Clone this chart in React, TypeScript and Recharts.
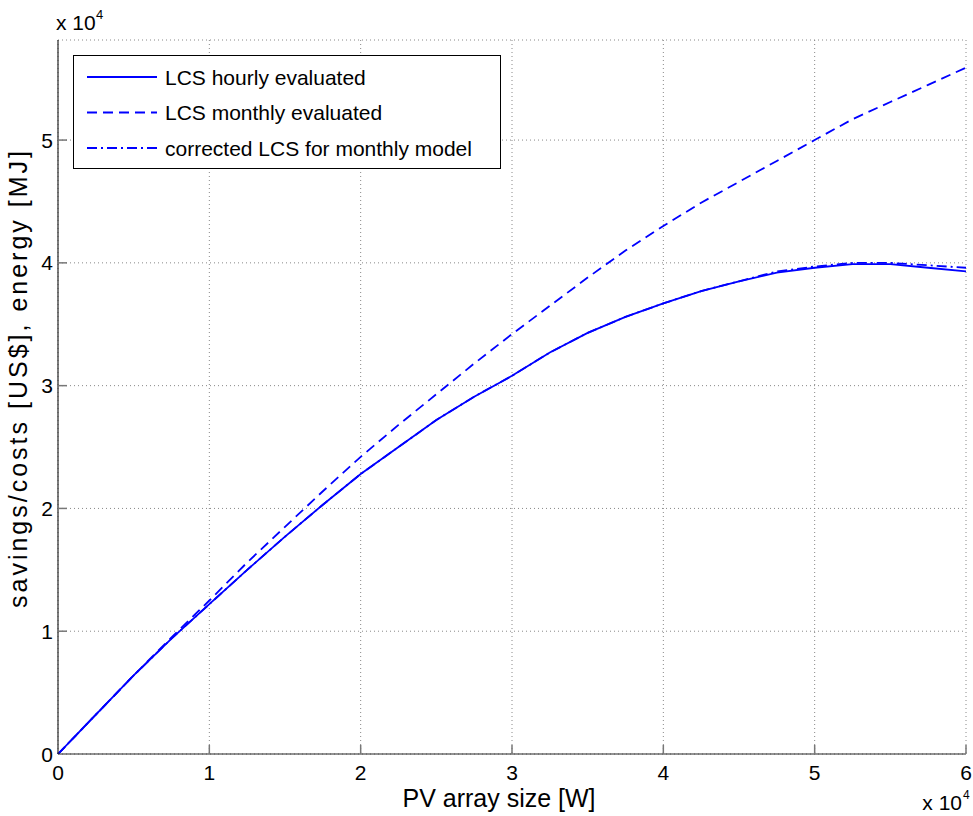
import React from 'react';
import { LineChart, Line, XAxis, YAxis, CartesianGrid, Legend, Customized } from 'recharts';

const FONT = '"Liberation Sans", Arial, Helvetica, sans-serif';
const BLUE = '#0000ff';

// PV array size [W]
const arraySizes = [
  0, 2500, 5000, 7500, 10000, 12500, 15000, 17500, 20000, 22500, 25000, 27500, 30000,
  32500, 35000, 37500, 40000, 42500, 45000, 47500, 50000, 52500, 55000, 57500, 60000,
];

// life-cycle savings [US$]
const hourlyLCS = [
  0, 3200, 6400, 9400, 12200, 15000, 17700, 20300, 22800, 25000, 27200, 29100, 30800,
  32700, 34300, 35600, 36700, 37700, 38500, 39200, 39600, 39900, 39900, 39600, 39300,
];
const monthlyLCS = [
  0, 3200, 6400, 9500, 12500, 15600, 18500, 21400, 24200, 26800, 29300, 31800, 34200,
  36500, 38800, 41000, 43000, 44900, 46600, 48300, 50000, 51700, 53100, 54500, 55900,
];
const correctedLCS = [
  0, 3200, 6400, 9400, 12200, 15000, 17700, 20300, 22800, 25000, 27200, 29100, 30800,
  32700, 34300, 35600, 36700, 37700, 38500, 39300, 39700, 40000, 40000, 39800, 39600,
];

const xTicks = [0, 10000, 20000, 30000, 40000, 50000, 60000];
const xTickLabels = ['0', '1', '2', '3', '4', '5', '6'];
const yTicks = [0, 10000, 20000, 30000, 40000, 50000];
const yTickLabels = ['0', '1', '2', '3', '4', '5'];

const seriesNames = ['LCS hourly evaluated', 'LCS monthly evaluated', 'corrected LCS for monthly model'];
const seriesDash = ['', '10 6', '10 4 2 4'];

const xTitle = 'PV array size [W]';
const yTitle = 'savings/costs [US$], energy [MJ]';

const data = arraySizes.map((x, i) => ({
  x,
  hourly: hourlyLCS[i],
  monthly: monthlyLCS[i],
  corrected: correctedLCS[i],
}));

const FS = 21;
const TITLE_FS = 25;

const XTick = (props: any) => {
  const { x, y, payload } = props;
  const label = xTickLabels[xTicks.indexOf(payload.value)];
  return (
    <g>
      {payload.value !== 0 && (
        <line x1={x} x2={x} y1={y} y2={y - 9} stroke="#777" strokeWidth={1.5} />
      )}
      <text x={x} y={y + 26} textAnchor="middle" fontSize={FS} fontFamily={FONT} fill="#000">
        {label}
      </text>
    </g>
  );
};

const YTick = (props: any) => {
  const { x, y, payload } = props;
  const label = yTickLabels[yTicks.indexOf(payload.value)];
  return (
    <g>
      {payload.value !== 0 && (
        <line x1={x} x2={x + 9} y1={y} y2={y} stroke="#777" strokeWidth={1.5} />
      )}
      <text x={x - 5} y={y + 7.5} textAnchor="end" fontSize={FS} fontFamily={FONT} fill="#000">
        {label}
      </text>
    </g>
  );
};

const XTitle = (props: any) => {
  const vb = props.viewBox || { x: 58, y: 754, width: 908 };
  return (
    <text
      x={vb.x + vb.width / 2 - 13}
      y={vb.y + 53}
      textAnchor="middle"
      fontSize={TITLE_FS}
      fontFamily={FONT}
      fill="#000"
    >
      {xTitle}
    </text>
  );
};

const YTitle = (props: any) => {
  const vb = props.viewBox || { x: 0, y: 40, height: 714 };
  const cx = vb.x + 27;
  const cy = vb.y + vb.height / 2 - 19;
  return (
    <text
      x={cx}
      y={cy}
      transform={`rotate(-90 ${cx} ${cy})`}
      textAnchor="middle"
      fontSize={TITLE_FS}
      letterSpacing={3}
      fontFamily={FONT}
      fill="#000"
    >
      {yTitle}
    </text>
  );
};

const LegendBox = () => (
  <svg width={428} height={114} style={{ display: 'block' }}>
    <rect x={0.5} y={0.5} width={427} height={113} fill="#fff" stroke="#000" strokeWidth={1} />
    {seriesNames.map((name, i) => {
      const cy = 22 + i * 35.5;
      return (
        <g key={name}>
          <line
            x1={14}
            x2={84}
            y1={cy}
            y2={cy}
            stroke={BLUE}
            strokeWidth={2}
            strokeDasharray={seriesDash[i] || undefined}
          />
          <text x={92} y={cy + 7.5} fontSize={FS} fontFamily={FONT} fill="#000">
            {name}
          </text>
        </g>
      );
    })}
  </svg>
);

// scale factor annotations ("x 10^4") on both axes
const Exponents = () => (
  <g fontFamily={FONT} fill="#000">
    <text x={56} y={30} fontSize={FS}>x 10</text>
    <text x={96} y={19} fontSize={13}>4</text>
    <text x={962} y={810} fontSize={21} textAnchor="end">x 10</text>
    <text x={963} y={799} fontSize={12}>4</text>
  </g>
);

export default function App() {
  return (
    <div style={{ position: 'absolute', left: 0, top: 0, width: 973, height: 816, background: '#fff' }}>
      <LineChart
        width={973}
        height={816}
        data={data}
        margin={{ top: 40, right: 7, bottom: 0, left: 0 }}
        style={{ fontFamily: FONT }}
      >
        <CartesianGrid stroke="#888" strokeDasharray="1 3" />
        <XAxis
          dataKey="x"
          type="number"
          domain={[0, 60000]}
          ticks={xTicks}
          interval={0}
          height={62}
          tickSize={0}
          tickMargin={0}
          tickLine={false}
          axisLine={{ stroke: '#262626', strokeWidth: 1.2 }}
          tick={<XTick />}
          label={{ value: xTitle, content: <XTitle /> }}
        />
        <YAxis
          type="number"
          domain={[0, 58150]}
          ticks={yTicks}
          interval={0}
          width={58}
          tickSize={0}
          tickMargin={0}
          tickLine={false}
          axisLine={{ stroke: '#262626', strokeWidth: 1.2 }}
          tick={<YTick />}
          allowDataOverflow
          label={{ value: yTitle, content: <YTitle /> }}
        />
        <Line
          dataKey="hourly"
          name={seriesNames[0]}
          stroke={BLUE}
          strokeWidth={1.8}
          dot={false}
          type="linear"
          isAnimationActive={false}
        />
        <Line
          dataKey="monthly"
          name={seriesNames[1]}
          stroke={BLUE}
          strokeWidth={1.8}
          strokeDasharray={seriesDash[1]}
          dot={false}
          type="linear"
          isAnimationActive={false}
        />
        <Line
          dataKey="corrected"
          name={seriesNames[2]}
          stroke={BLUE}
          strokeWidth={1.8}
          strokeDasharray={seriesDash[2]}
          dot={false}
          type="linear"
          isAnimationActive={false}
        />
        <Legend
          layout="vertical"
          align="center"
          verticalAlign="middle"
          content={<LegendBox />}
          wrapperStyle={{ left: 73, top: 55, width: 428, height: 114, right: 'auto', bottom: 'auto' }}
        />
        <Customized component={<Exponents />} />
      </LineChart>
    </div>
  );
}
